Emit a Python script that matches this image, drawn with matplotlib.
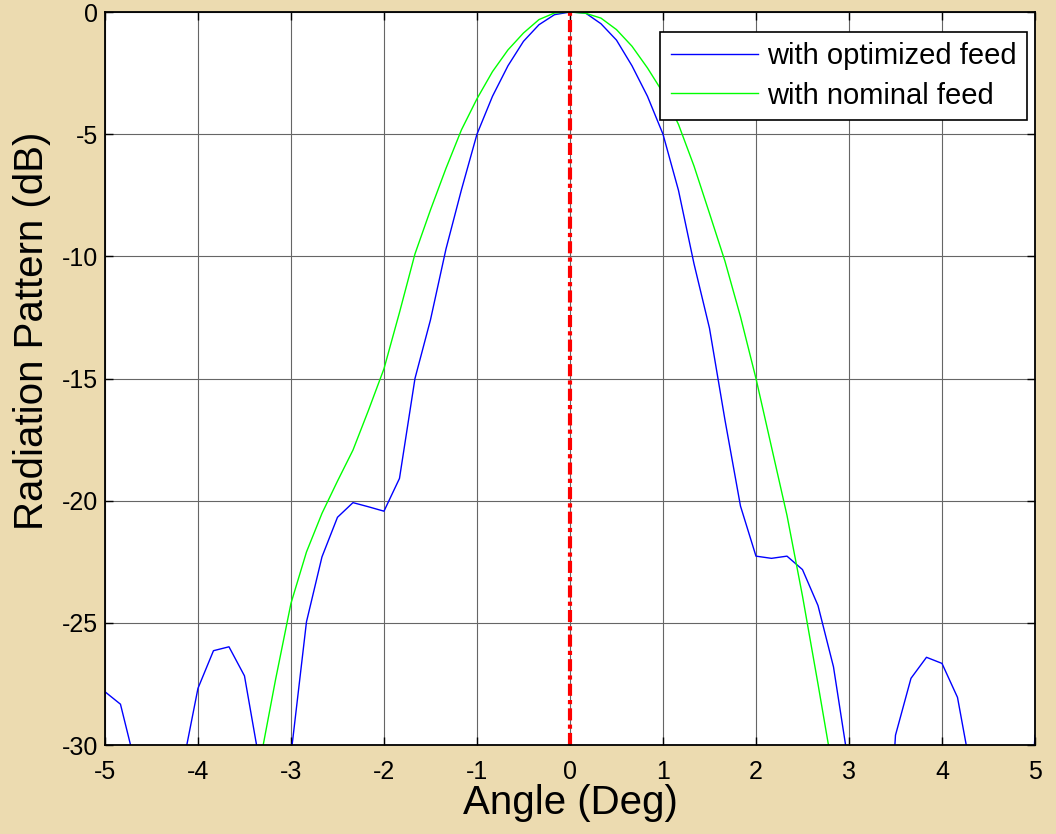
import numpy as np
import matplotlib
matplotlib.use("Agg")
import matplotlib.pyplot as plt

plt.rcParams['font.family'] = ['Liberation Sans', 'DejaVu Sans']
plt.rcParams['axes.unicode_minus'] = False

# angle samples, step 1/6 deg
angle = np.linspace(-5, 5, 61)

# with optimized feed (dB); values below -30 are off the plot
optimized = [
    -27.82, -28.33, -30.9, -40.0, -40.0, -30.9, -27.68, -26.14, -25.98, -27.17,
    -30.8, -40.0, -30.4, -24.96, -22.3, -20.68, -20.08, -20.25, -20.43, -19.09,
    -15.0, -12.6, -9.7, -7.27, -5.0, -3.45, -2.2, -1.2, -0.52, -0.11,
    0.0, -0.04, -0.48, -1.15, -2.2, -3.45, -5.0, -7.3, -10.3, -12.94,
    -16.7, -20.22, -22.27, -22.36, -22.27, -22.82, -24.29, -26.8, -30.9, -40.0,
    -40.0, -29.6, -27.27, -26.41, -26.66, -28.05, -31.5, -40.0, -40.0, -40.0,
    -29.6,
]

# with nominal feed (dB)
nominal = [
    -40.0, -40.0, -40.0, -40.0, -40.0, -40.0, -40.0, -40.0, -40.0, -40.0,
    -30.7, -27.34, -24.2, -22.1, -20.52, -19.2, -17.93, -16.3, -14.6, -12.3,
    -9.9, -8.1, -6.4, -4.82, -3.55, -2.44, -1.55, -0.86, -0.31, -0.04,
    0.0, -0.05, -0.25, -0.72, -1.4, -2.29, -3.3, -4.6, -6.3, -8.24,
    -10.2, -12.47, -15.0, -17.8, -20.6, -23.9, -27.5, -31.2, -40.0, -40.0,
    -40.0, -40.0, -40.0, -40.0, -40.0, -40.0, -40.0, -40.0, -40.0, -40.0,
    -40.0,
]

boresight = 0.0
xticks = list(range(-5, 6))
yticks = list(range(-30, 1, 5))

fig = plt.figure(figsize=(10.56, 8.34), dpi=100, facecolor='#ecdbb0')
ax = fig.add_axes([0.0994, 0.1067, 0.8807, 0.8789])
ax.set_facecolor('white')

ax.plot(angle, optimized, color='#0000ff', lw=1.0, label='with optimized feed')
ax.plot(angle, nominal, color='#00ff00', lw=1.0, label='with nominal feed')
ax.axvline(boresight, color='#ff0000', lw=3.0, linestyle=(0, (2.9, 1.0, 1.0, 1.0)))

ax.set_xlim(-5, 5)
ax.set_ylim(-30, 0)
ax.set_xticks(xticks)
ax.set_yticks(yticks)
ax.grid(True, color='0.4', lw=0.8)
ax.set_axisbelow(True)

ax.tick_params(direction='in', length=6, width=1.0, top=True, right=True,
               labelsize=18)
ax.tick_params(axis='x', pad=11)
ax.tick_params(axis='y', pad=5)
for s in ax.spines.values():
    s.set_linewidth(1.3)

ax.set_xlabel('Angle (Deg)', fontsize=29, labelpad=0)
ax.set_ylabel('Radiation Pattern (dB)', fontsize=29)
ax.yaxis.set_label_coords(-0.058, 0.565)

leg = ax.legend(loc='upper right', bbox_to_anchor=(0.991, 0.973), borderaxespad=0,
                fontsize=21, fancybox=False, framealpha=1, edgecolor='black',
                handlelength=3.0, handletextpad=0.3, labelspacing=0.4, borderpad=0.35)
leg.get_frame().set_linewidth(1.2)

fig.savefig('out.png', dpi=100, facecolor=fig.get_facecolor())
